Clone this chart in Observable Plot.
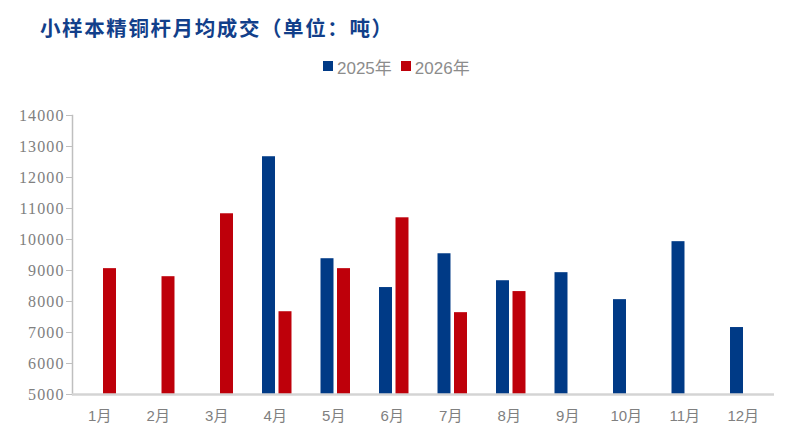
<!DOCTYPE html>
<html>
<head>
<meta charset="utf-8">
<script src="https://cdn.jsdelivr.net/npm/d3@7"></script>
<script src="https://cdn.jsdelivr.net/npm/@observablehq/plot@0.6"></script>
<style>
  html, body { margin: 0; padding: 0; background: #fff; }
  #wrap { width: 796px; height: 443px; position: relative; overflow: hidden; }
  #title { height: 50px; box-sizing: border-box; padding: 15px 0 0 40px; font-family: "Noto Sans CJK SC", sans-serif; font-weight: 700; font-size: 20.5px; color: #123F8A; line-height: 24px; letter-spacing: 1.6px; }
  #legend { height: 38px; display: flex; justify-content: flex-start; align-items: center; font-family: "Liberation Sans", "Noto Sans CJK SC", sans-serif; font-size: 17px; color: #8c8c8c; box-sizing: border-box; padding-bottom: 6px; padding-left: 323px; }
  .sw { display: inline-block; width: 10px; height: 10px; margin-right: 4px; }
  .item { display: flex; align-items: center; margin-right: 9px; }
  svg { display: block; }
  svg text.ylab { font-family: "Liberation Serif", serif !important; font-size: 16px !important; letter-spacing: 1.1px; }
</style>
</head>
<body>
<div id="wrap">
  <div id="title">小样本精铜杆月均成交（单位：吨）</div>
  <div id="legend"></div>
  <div id="chart"></div>
</div>
<script>
const months = ["1月","2月","3月","4月","5月","6月","7月","8月","9月","10月","11月","12月"];
const seriesNames = ["2025年","2026年"];
const colors = ["#003A86","#BE000A"];
const values2025 = [null, null, null, 12670, 9380, 8450, 9540, 8670, 8930, 8060, 9930, 7160];
const values2026 = [9060, 8800, 10830, 7670, 9060, 10700, 7640, 8320, null, null, null, null];
const yTicks = [5000,6000,7000,8000,9000,10000,11000,12000,13000,14000];

const data = [];
months.forEach((m, i) => {
  if (values2025[i] != null) data.push({month: m, series: seriesNames[0], value: values2025[i]});
  if (values2026[i] != null) data.push({month: m, series: seriesNames[1], value: values2026[i]});
});

// legend
const leg = document.getElementById("legend");
seriesNames.forEach((s, i) => {
  const it = document.createElement("span");
  it.className = "item";
  it.innerHTML = `<span class="sw" style="background:${colors[i]}"></span>${s}`;
  leg.appendChild(it);
});

const gap = 16.5;
const plot = Plot.plot({
  width: 796,
  height: 355,
  marginLeft: 72,
  marginRight: 22,
  marginTop: 27,
  marginBottom: 49,
  x: {domain: months, paddingInner: 0.496, paddingOuter: 0.248, round: false, label: null},
  y: {domain: [5000, 14000], label: null},
  color: {domain: seriesNames, range: colors},
  marks: [
    Plot.barY(data.filter(d => d.series === seriesNames[0]), {x: "month", y1: 5000, y2: "value", fill: colors[0], insetRight: gap}),
    Plot.barY(data.filter(d => d.series === seriesNames[1]), {x: "month", y1: 5000, y2: "value", fill: colors[1], insetLeft: gap}),
    Plot.axisY({ticks: yTicks, tickSize: 6, tickPadding: 2, stroke: "#bfbfbf", fill: "#808080", tickFormat: d => String(d), label: null}),
    Plot.axisX({tickSize: 0, tickPadding: 16, dx: -2, fill: "#808080", fontSize: 15, fontFamily: "Liberation Sans, Noto Sans CJK SC, sans-serif", label: null}),
    Plot.frame({anchor: "left", stroke: "#bfbfbf", strokeWidth: 1.5}),
    Plot.ruleY([5000], {stroke: "#d4d4d4", strokeWidth: 2.5})
  ]
});
d3.select(plot).selectAll("text")
  .filter(function() { return /^\d+$/.test(this.textContent.trim()); })
  .classed("ylab", true);
document.getElementById("chart").appendChild(plot);
</script>
</body>
</html>
